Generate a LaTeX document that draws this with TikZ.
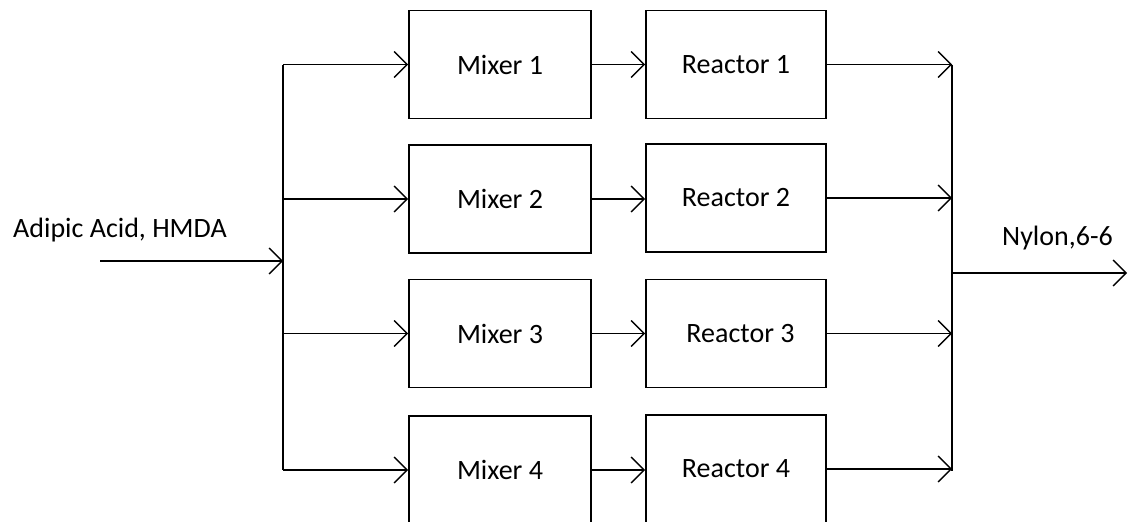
\documentclass[tikz,border=0pt]{standalone}
\usepackage{fontspec}
\setmainfont{Carlito}
\usetikzlibrary{arrows.meta}
\begin{document}
\begin{tikzpicture}[x=1pt,y=-1pt,
  blockbox/.style={draw, line width=1.9pt, minimum width=182pt, minimum height=108pt, inner sep=0pt,
    font=\fontsize{28}{34}\selectfont},
  flow/.style={line width=1.9pt, -{Straight Barb[length=13pt,width=26pt,line width=1.4pt]}},
  bus/.style={line width=1.9pt},
  lbl/.style={inner sep=0pt, anchor=base west, font=\fontsize{28}{34}\selectfont}]
\useasboundingbox (0,0) rectangle (1128,522);
\clip (0,0) rectangle (1128,522);
% blocks
\node[blockbox] (m1) at (500,64.5) {Mixer 1};
\node[blockbox] (m2) at (500,199) {Mixer 2};
\node[blockbox] (m3) at (500,333.5) {Mixer 3};
\node[blockbox] (m4) at (500,470) {Mixer 4};
\node[blockbox, minimum width=180pt] (r1) at (736,64.5) {Reactor 1};
\node[blockbox, minimum width=180pt] (r2) at (736,198) {Reactor 2};
\node[blockbox, minimum width=180pt] (r3) at (736,333.5) {\hspace*{9pt}Reactor 3};
\node[blockbox, minimum width=180pt] (r4) at (736,469) {Reactor 4};
% labels
\node[lbl] (inlbl) at (13,237) {Adipic Acid, HMDA};
\node[lbl] (outlbl) at (1002,245) {Nylon,6-6};
% coordinates
\coordinate (in) at (100,261);
\coordinate (bl) at (283,261);
\coordinate (bltop) at (283,64.5);
\coordinate (blbot) at (283,470);
\coordinate (br) at (952,273);
\coordinate (brtop) at (952,64.5);
\coordinate (brbot) at (952,471);
\coordinate (out) at (1127,273);
% input
\draw[flow] (in) -- (bl);
\draw[bus] (bltop) -- (blbot);
\foreach \i in {1,2,3,4}{
  \draw[flow] (bl |- m\i.west) -- (m\i.west);
  \draw[flow] (m\i.east) -- (m\i.east -| r\i.west);
  \draw[flow] (r\i.east) -- (br |- r\i.east);
}
\draw[bus] (brtop) -- (brbot);
\draw[flow] (br) -- (out);
\end{tikzpicture}
\end{document}
